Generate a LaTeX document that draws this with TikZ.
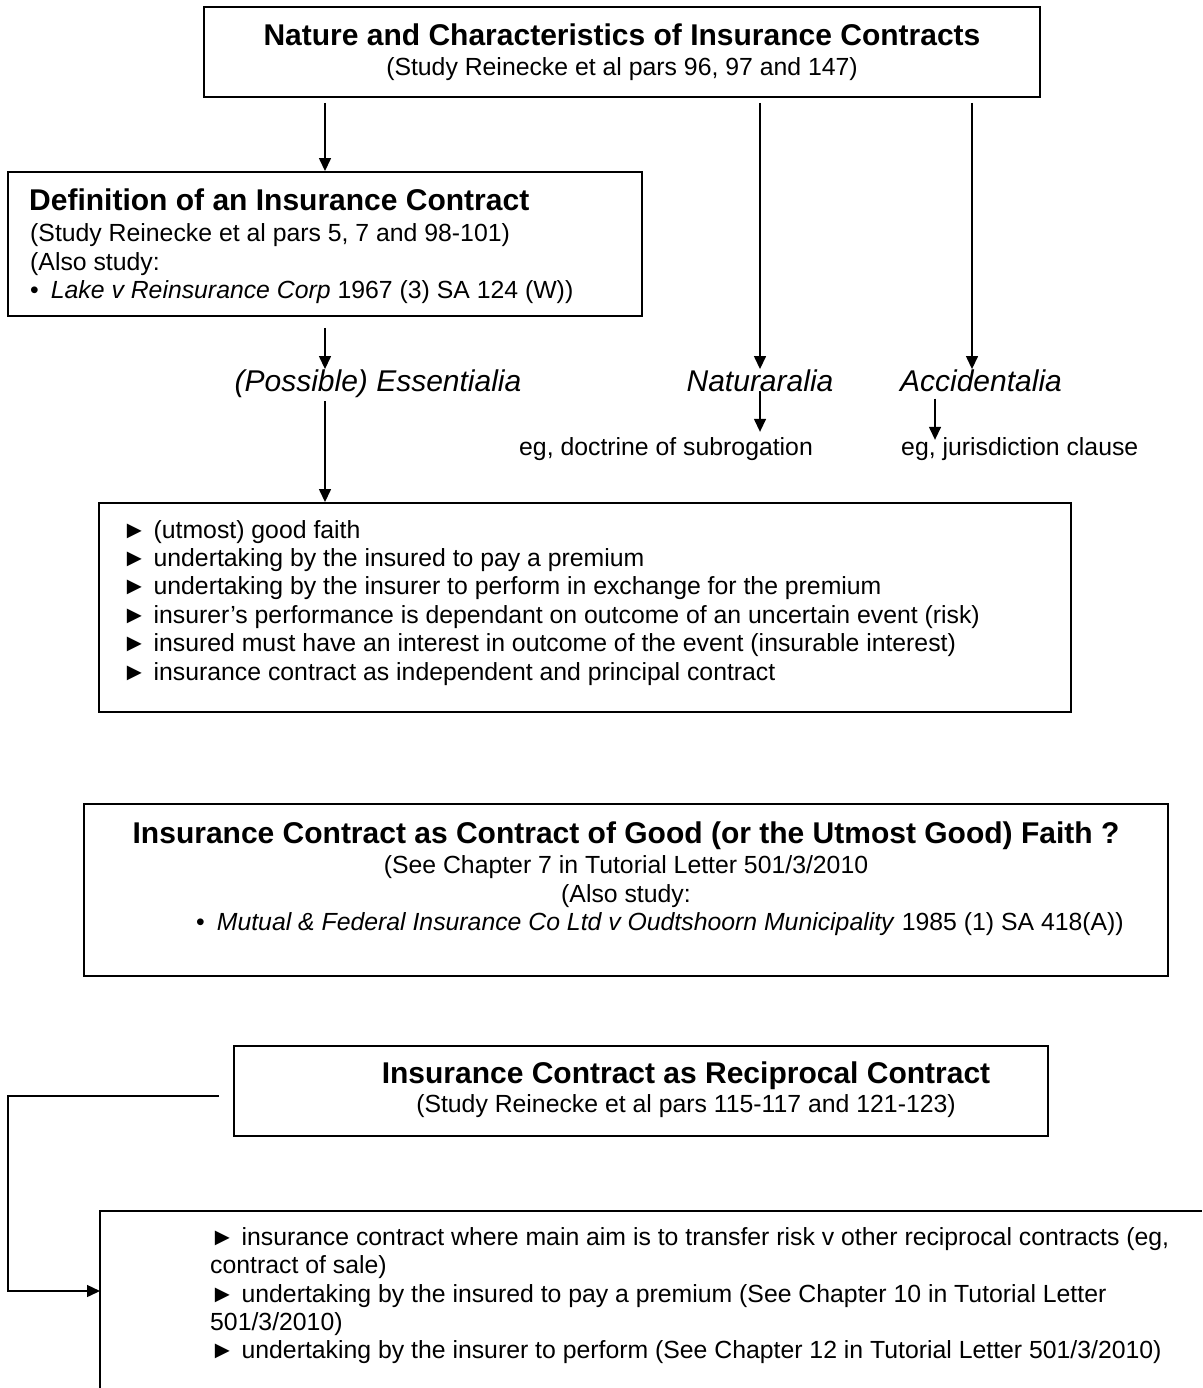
\documentclass[tikz,border=0pt]{standalone}
\usepackage{fontspec}
\setmainfont{Liberation Sans}
\usetikzlibrary{arrows.meta}

\begin{document}
\begin{tikzpicture}[x=1pt,y=-1pt,
    box/.style={draw, line width=1.9pt, inner sep=0pt},
    txt/.style={inner sep=0pt, font=\fontsize{24.8}{28.4}\selectfont},
    head/.style={inner sep=0pt, font=\fontsize{30}{34}\selectfont\bfseries},
    lbl/.style={inner sep=0pt, font=\fontsize{30}{34}\selectfont\itshape},
    arr/.style={line width=1.4pt, -{Triangle[length=13pt,width=12pt]}}]
      \useasboundingbox (0,0) rectangle (1202,1388);
      % top box
      \node[box, minimum width=836pt, minimum height=90pt] (top) at (622,52) {};
      \node[head, anchor=base] (toptitle) at (622,46) {Nature and Characteristics of Insurance Contracts};
      \node[txt, anchor=base] (topsub) at (622,76) {(Study Reinecke et al pars 96, 97 and 147)};
      % definition
      \node[box, minimum width=634pt, minimum height=144pt] (def) at (325,244) {};
      \node[head, anchor=base west] (deftitle) at (29,211) {Definition of an Insurance Contract};
      \node[txt, anchor=base west] (defa) at (30,241) {(Study Reinecke et al pars 5, 7 and 98-101)};
      \node[txt, anchor=base west] (defb) at (30,270) {(Also study:};
      \node[txt, anchor=base west] (defc) at (30,298) {•\hspace{12pt}\textit{Lake v Reinsurance Corp} 1967 (3) SA 124 (W))};
      % essentialia, naturalia, accidentalia
      \node[lbl, anchor=base] (ess) at (378,391) {(Possible) Essentialia};
      \node[lbl, anchor=base] (nat) at (760,391) {Naturaralia};
      \node[lbl, anchor=base] (acc) at (981,391) {Accidentalia};
      \node[txt, anchor=base west] (egdoc) at (519,455) {eg, doctrine of subrogation};
      \node[txt, anchor=base west] (egjur) at (901,455) {eg, jurisdiction clause};
      % essentialia list
      \node[box, minimum width=972pt, minimum height=209pt] (bul) at (585,607.5) {};
      \node[txt, anchor=base west] (bula) at (122,538) {► (utmost) good faith};
      \node[txt, anchor=base west] (bulb) at (122,566.4) {► undertaking by the insured to pay a premium};
      \node[txt, anchor=base west] (bulc) at (122,594.8) {► undertaking by the insurer to perform in exchange for the premium};
      \node[txt, anchor=base west] (buld) at (122,623.2) {► insurer’s performance is dependant on outcome of an uncertain event (risk)};
      \node[txt, anchor=base west] (bule) at (122,651.6) {► insured must have an interest in outcome of the event (insurable interest)};
      \node[txt, anchor=base west] (bulf) at (122,680) {► insurance contract as independent and principal contract};
      \coordinate (acctop) at ([xshift=-9pt]acc.north);
      \coordinate (accbot) at ([xshift=-46pt]acc.south);
      \draw[arr, shorten <=5pt] (top.south -| def.north) -- (def.north);
      \draw[arr, shorten <=5pt] (top.south -| nat.north) -- (nat.north);
      \draw[arr, shorten <=5pt] (top.south -| acctop) -- (acctop);
      \draw[arr, shorten <=11pt] (def.south) -- (def.south |- ess.north);
      \draw[arr, shorten <=4pt] (ess.south -| def.south) -- (def.south |- bul.north);
      \draw[arr] (nat.south) -- ([yshift=5pt]nat.south |- egdoc.north);
      \draw[arr, shorten <=7pt] (accbot) -- ([yshift=-3pt]accbot |- egjur.north);
      % good faith
      \node[box, minimum width=1084pt, minimum height=172pt] (faith) at (626,890) {};
      \node[head, anchor=base] (faithtitle) at (626,843) {Insurance Contract as Contract of Good (or the Utmost Good) Faith ?};
      \node[txt, anchor=base] (faitha) at (626,873) {(See Chapter 7 in Tutorial Letter 501/3/2010};
      \node[txt, anchor=base] (faithb) at (626,902) {(Also study:};
      \node[txt, anchor=base west] (faithc) at (196,930) {•\hspace{12pt}\textit{Mutual \& Federal Insurance Co Ltd v Oudtshoorn Municipality} 1985 (1) SA 418(A))};
      % reciprocal
      \node[box, minimum width=814pt, minimum height=90pt] (recip) at (641,1091) {};
      \node[head, anchor=base] (reciptitle) at (686,1083) {Insurance Contract as Reciprocal Contract};
      \node[txt, anchor=base] (recipsub) at (686,1112) {(Study Reinecke et al pars 115-117 and 121-123)};
      \coordinate (lowcorner) at (100,1211);
      \draw[line width=1.9pt] (100,1388) -- (lowcorner) -- (1202,1211);
      \node[txt, anchor=base west] (lowa) at (210,1245) {► insurance contract where main aim is to transfer risk v other reciprocal contracts (eg,};
      \node[txt, anchor=base west] (lowb) at (210,1273.5) {contract of sale)};
      \node[txt, anchor=base west] (lowc) at (210,1302) {► undertaking by the insured to pay a premium (See Chapter 10 in Tutorial Letter};
      \node[txt, anchor=base west] (lowd) at (210,1330) {501/3/2010)};
      \node[txt, anchor=base west] (lowe) at (210,1358) {► undertaking by the insurer to perform (See Chapter 12 in Tutorial Letter 501/3/2010)};
      \coordinate (recipexit) at ([xshift=-14pt,yshift=-5pt]recip.west);
      \coordinate (loopleft) at (8,1291);
      \coordinate (lowentry) at (100,1291);
      \draw[arr] (recipexit) -| (loopleft) -- (lowentry);
\end{tikzpicture}
\end{document}
